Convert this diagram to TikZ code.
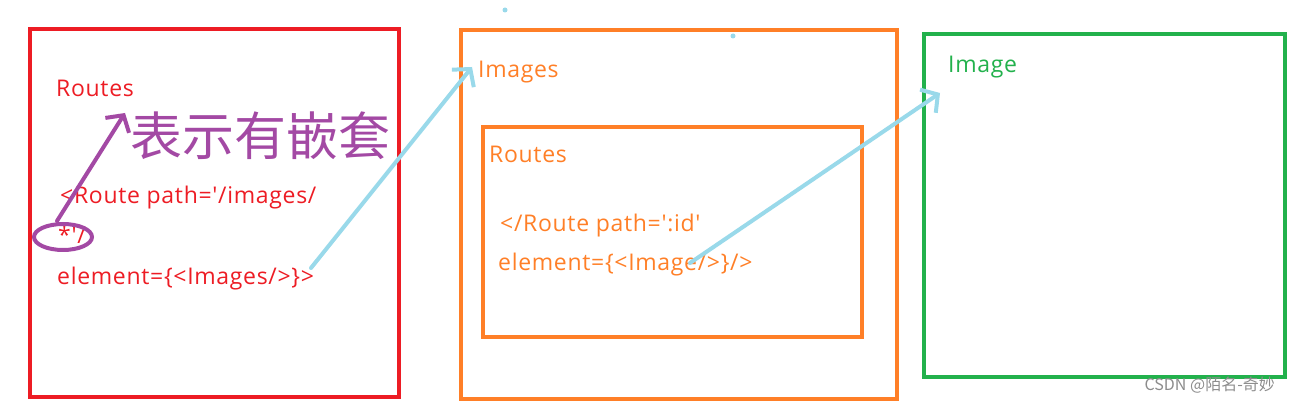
\documentclass[tikz,border=0pt]{standalone}
\usepackage{fontspec}
\setmainfont{Open Sans}[Ligatures=TeXOff,LetterSpace=3]
\newfontfamily\cjkfont{Noto Sans CJK SC}
\usetikzlibrary{positioning,arrows.meta,shapes.geometric}
\definecolor{RouteRed}{RGB}{237,28,36}
\definecolor{RouteOrange}{RGB}{255,127,39}
\definecolor{ImgGreen}{RGB}{34,177,76}
\definecolor{PenPurple}{RGB}{163,73,164}
\definecolor{PenBlue}{RGB}{153,217,234}

\begin{document}
\begin{tikzpicture}[x=1pt,y=-1pt,
    frame/.style={draw=#1,line width=4pt,anchor=north west,inner sep=0pt},
    lbl/.style={anchor=base west,inner sep=0pt,text=#1,font=\fontsize{23}{27}\selectfont},
    pen/.style={draw=#1,line width=4pt,line cap=round,line join=round,
                -{Straight Barb[length=12pt,width=28pt]}}]
        \useasboundingbox (0,0) rectangle (1290,403);
        % the three boxes
        \node[frame=RouteRed,minimum width=369pt,minimum height=368pt] (app) at (28,27) {};
        \node[frame=RouteOrange,minimum width=436pt,minimum height=369pt] (imgs) at (459,28) {};
        \node[frame=RouteOrange,minimum width=379pt,minimum height=210pt] (sub) at (481,125) {};
        \node[frame=ImgGreen,minimum width=361pt,minimum height=343pt] (img) at (922,32) {};
        % red box
        \node[lbl=RouteRed] (routesA) at (56,97) {Routes};
        \node[lbl=RouteRed] (pathA) at (60,204) {<Route path='/images/};
        \node[lbl=RouteRed] (starA) at (58,244) {*'/};
        \node[lbl=RouteRed] (elemA) at (57,284) {element=\{<Images/>\}>};
        % orange box
        \node[lbl=RouteOrange] (imgsT) at (478,78) {Images};
        \node[lbl=RouteOrange] (routesB) at (489,163) {Routes};
        \node[lbl=RouteOrange] (pathB) at (500,232) {</Route path=':id'};
        \node[lbl=RouteOrange] (elemB) at (498,271) {element=\{<Image/>\}/>};
        % green box
        \node[lbl=ImgGreen] (imgT) at (948,73) {Image};
        % pen marks
        \node[ellipse,draw=PenPurple,line width=4pt,minimum width=58pt,minimum height=26pt,
              inner sep=0pt] (ring) at (63,237) {};
        \node[anchor=west,inner sep=0pt,text=PenPurple,font=\cjkfont\fontsize{52}{52}\selectfont]
              (note) at (130,136) {表示有嵌套};
        \coordinate (ringTop) at (57,221);
        \coordinate (noteTip) at (125,113);
        \draw[pen=PenPurple] (ringTop) -- (noteTip);
        \coordinate (tailA) at (311,268);
        \coordinate (tipA) at (472,67);
        \draw[pen=PenBlue] (tailA) -- (tipA);
        \coordinate (tailB) at (690,263);
        \coordinate (tipB) at (940,93);
        \draw[pen=PenBlue] (tailB) -- (tipB);
        \fill[PenBlue] (505,10) circle (2.5) (733,36) circle (2.5);
        % watermark
        \node[anchor=base east,inner sep=0pt,text=black!45,font=\cjkfont\fontsize{16}{16}\selectfont]
              (mark) at (1275,390) {CSDN @陌名-奇妙};
      \end{tikzpicture}
\end{document}
